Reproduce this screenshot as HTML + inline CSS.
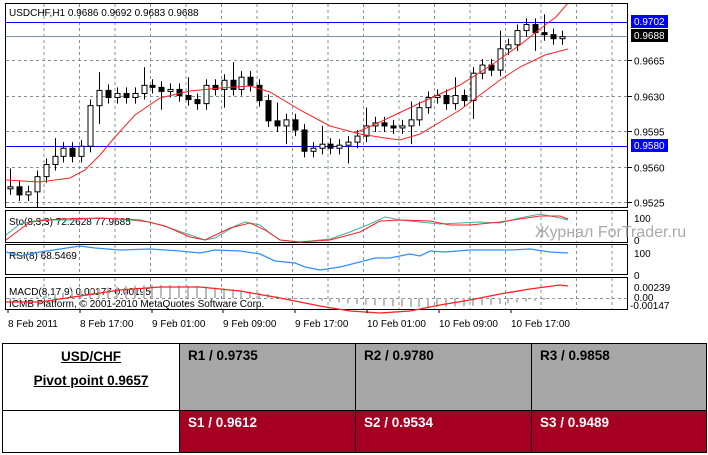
<!DOCTYPE html><html><head><meta charset="utf-8"><style>
body{margin:0;background:#fff;width:708px;height:455px;overflow:hidden;font-family:"Liberation Sans",sans-serif}
table{position:absolute;left:2px;top:343px;border-collapse:collapse;width:705px;height:110px;font-family:"Liberation Sans",sans-serif;font-weight:bold;font-size:13.5px}
td{border:1px solid #000;vertical-align:top;padding:4px 8px;box-sizing:border-box}
</style></head><body>
<svg id="s" width="708" height="340" style="position:absolute;left:0;top:0" font-family="Liberation Sans, sans-serif" font-size="10"></svg>
<table><tr style="height:67px"><td style="width:177px;text-align:center;padding-top:5px"><div style="text-decoration:underline;font-size:13.5px">USD/CHF</div><div style="text-decoration:underline;margin-top:9px;font-size:13.5px">Pivot point 0.9657</div></td>
<td style="background:#a6a6a6;width:176px">R1 / 0.9735</td><td style="background:#a6a6a6;width:176px">R2 / 0.9780</td><td style="background:#a6a6a6">R3 / 0.9858</td></tr>
<tr><td></td><td style="background:#a50021;color:#fff">S1 / 0.9612</td><td style="background:#a50021;color:#fff">S2 / 0.9534</td><td style="background:#a50021;color:#fff">S3 / 0.9489</td></tr></table>
<script>
const s=document.getElementById('s');let h='<defs><clipPath id="c"><rect x="6" y="4" width="621" height="203"/></clipPath></defs>';
const Y=p=>202-(p-0.9525)/0.0035*35.5;
function box(y1,y2){h+=`<rect x="5.5" y="${y1+.5}" width="622" height="${y2-y1}" fill="#fff" stroke="#000"/>`;
for(let x=44;x<628;x+=35.5)h+=`<line x1="${x}" y1="${y1+1}" x2="${x}" y2="${y2}" stroke="#8090a0" stroke-dasharray="3,3"/>`;}
box(3,207);
[0.9525,0.9560,0.9595,0.9630,0.9665].forEach(p=>{const y=Math.round(Y(p))+.5;h+=`<line x1="6" y1="${y}" x2="627" y2="${y}" stroke="#8090a0" stroke-dasharray="3,3"/><line x1="628" y1="${y}" x2="632" y2="${y}" stroke="#000"/><text x="634" y="${y+4}">${p.toFixed(4)}</text>`;});
h+=`<line x1="6" y1="22.5" x2="627" y2="22.5" stroke="#0000ff"/><line x1="6" y1="146.5" x2="627" y2="146.5" stroke="#0000ff"/><line x1="6" y1="36.5" x2="627" y2="36.5" stroke="#8090a0"/>`;
h+=`<rect x="631" y="15" width="37" height="13" fill="#0000ff"/><text x="634" y="25" fill="#fff">0.9702</text><rect x="631" y="29" width="37" height="13" fill="#000"/><text x="634" y="39" fill="#fff">0.9688</text><rect x="631" y="139" width="37" height="13" fill="#0000ff"/><text x="634" y="149" fill="#fff">0.9580</text>`;
h+=`<text x="9" y="16">USDCHF,H1  0.9686 0.9692 0.9683 0.9688</text><g clip-path="url(#c)">`;
const C=[0.9540,0.9532,0.9535,0.9550,0.9562,0.9570,0.9578,0.9570,0.9580,0.9620,0.9635,0.9628,0.9632,0.9628,0.9632,0.9640,0.9638,0.9634,0.9636,0.9630,0.9626,0.9622,0.9640,0.9636,0.9645,0.9636,0.9648,0.9640,0.9625,0.9605,0.9600,0.9606,0.9596,0.9575,0.9578,0.9582,0.9578,0.9581,0.9584,0.9590,0.9600,0.9603,0.9600,0.9598,0.9600,0.9606,0.9618,0.9628,0.9630,0.9622,0.9630,0.9625,0.9652,0.9660,0.9655,0.9676,0.9680,0.9694,0.9700,0.9692,0.9690,0.9686,0.9688];
let o=0.9538;
C.forEach((c,i)=>{const x=Math.round(10+i*8.9)+.5;const hi=Math.max(o,c)+0.0006+(i%5==0?0.0012:0),lo=Math.min(o,c)-0.0006-(i%7==3?0.0012:0);
h+=`<line x1="${x}" y1="${Y(hi)}" x2="${x}" y2="${Y(lo)}" stroke="#000"/>`;
let t=Y(Math.max(o,c)),b=Y(Math.min(o,c));if(b-t<2){t-=1;b=t+2}
h+=`<rect x="${x-2.5}" y="${t}" width="5" height="${b-t}" fill="${c>=o?'#fff':'#000'}" stroke="#000"/>`;o=c;});
const pl=(pts,col,w)=>h+=`<polyline points="${pts}" fill="none" stroke="${col}" stroke-width="${w||1}"/>`;
pl("6,180 40,182 70,178 85,170 100,155 115,137 135,115 160,98 190,91 220,88 250,86 270,92 300,110 330,126 360,134 385,138 400,140 420,134 440,122 460,110 480,95 500,80 520,67 545,55 568,49","#ff2020");
pl("355,133 380,122 420,103 460,85 490,66 520,45 545,25 556,17 568,3","#ff2020");
h+='</g>';
box(210,242);box(244,274);box(277,309);
h+=`<text x="9" y="225">Sto(8,3,3) 72.2628 77.9685</text><text x="634" y="222">100</text><text x="634" y="244">0</text>`;
pl("6,235 20,224 40,220 70,220 100,218 130,220 150,222 170,228 190,235 205,240 215,238 235,226 245,222 260,225 270,233 280,240 300,242 330,239 350,232 370,224 385,217 400,220 420,222 440,224 460,223 480,222 500,223 520,218 540,214 560,218 568,220","#40b0a0");
pl("6,240 30,222 60,219 100,218 140,220 165,226 190,237 205,240 230,228 250,223 265,230 280,240 300,242 330,240 360,232 380,221 400,220 430,221 450,225 470,225 500,222 520,219 540,216 560,216 568,219","#ff2020");
h+=`<text x="9" y="259">RSI(8) 68.5469</text><text x="634" y="257">100</text><text x="634" y="279">0</text>`;
pl("6,252 20,256 40,252 60,249 80,246 95,248 120,250 150,249 180,251 200,253 215,250 240,251 260,254 275,261 295,263 305,267 320,270 340,267 360,262 375,258 390,258 410,254 420,256 430,251 445,252 470,250 490,250 510,250 530,249 550,252 568,253","#3090ff",1.3);
h+=`<text x="9" y="295">MACD(8,17,9) 0.00177 0.00195</text><text x="9" y="307">ICMB Platform, © 2001-2010 MetaQuotes Software Corp.</text><text x="634" y="291">0.00239</text><text x="634" y="301">0.00</text><text x="630" y="309">-0.00147</text>`;
h+=`<line x1="6" y1="298.5" x2="627" y2="298.5" stroke="#8090a0" stroke-dasharray="3,3"/>`;
for(let i=0;i<63;i++){const x=Math.round(10+i*8.9);const v=Math.sin((i-2)/63*2*Math.PI*1.05)*(i<30?13:9);h+=`<line x1="${x}" y1="298" x2="${x}" y2="${298-v}" stroke="#bbb" stroke-width="2"/>`;}
pl("6,302 40,302 80,296 120,290 160,287 200,287 240,291 280,298 320,306 350,311 380,313 410,311 440,305 470,300 500,294 530,289 560,285 568,286","#ff2020",1.3);
["8 Feb 2011","8 Feb 17:00","9 Feb 01:00","9 Feb 09:00","9 Feb 17:00","10 Feb 01:00","10 Feb 09:00","10 Feb 17:00"].forEach((t,i)=>{const x=Math.round(8+i*71.8);h+=`<line x1="${x}" y1="309" x2="${x}" y2="313" stroke="#000"/><text x="${x}" y="327">${t}</text>`;});
h+=`<text x="535" y="237" font-size="16" fill="#aaa">Журнал ForTrader.ru</text>`;
s.innerHTML=h;
</script></body></html>
